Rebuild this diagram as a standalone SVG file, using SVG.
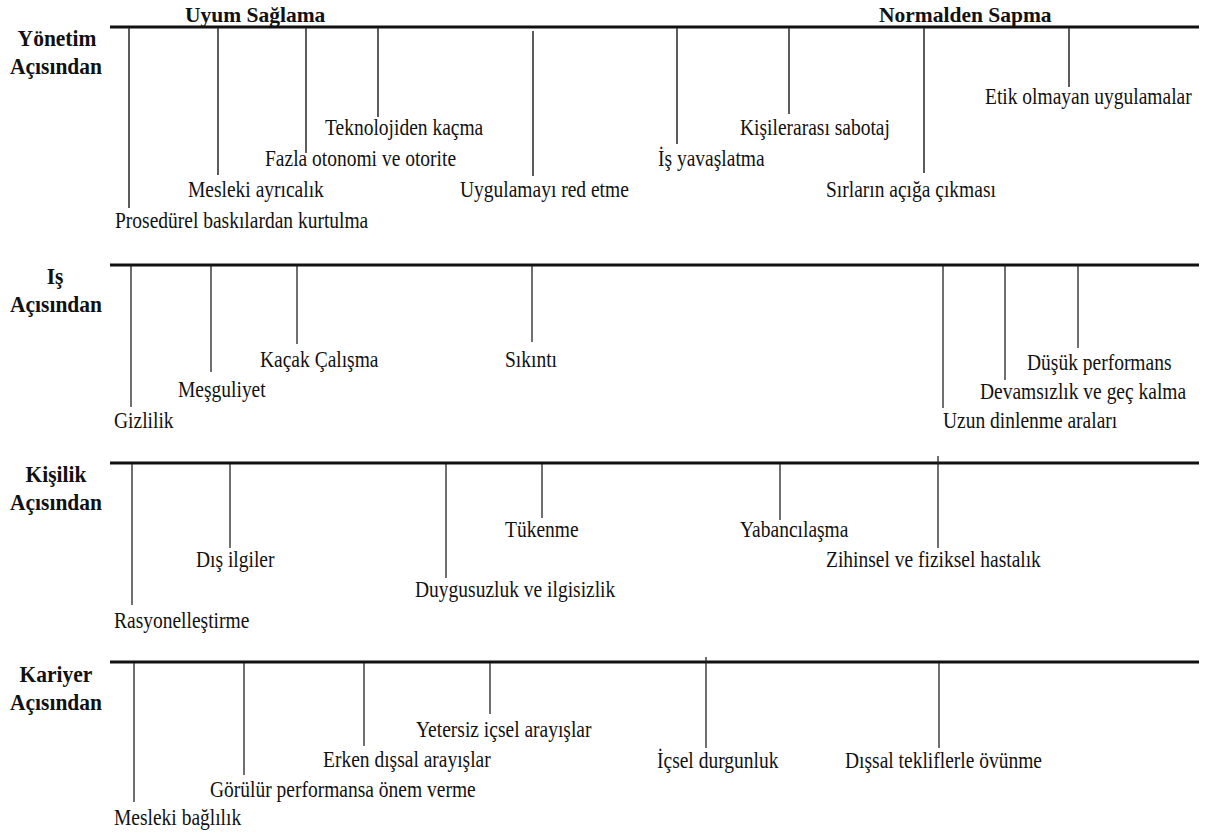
<svg xmlns="http://www.w3.org/2000/svg" width="1209" height="833" viewBox="0 0 1209 833">
  <style>
    .axis { stroke: #111; stroke-width: 3; fill: none; }
    .tick { stroke: #333; stroke-width: 1.6; fill: none; }
    .thin { stroke: #222; stroke-width: 1.3; }
    text { font-family: 'Liberation Serif', 'Times New Roman', serif; fill: #111; }
    .lbl { font-size: 19.5px; }
    .head { font-size: 21.5px; font-weight: bold; }
    .row { font-size: 21.5px; font-weight: bold; text-anchor: middle; }
  </style>
  <rect width="1209" height="833" fill="#fff"/>

  <!-- column headings -->
  <g id="heading-uyum"><text class="head" x="185" y="22">Uyum Sağlama</text></g>
  <g id="heading-sapma"><text class="head" x="879" y="22">Normalden Sapma</text></g>

  <!-- row titles -->
  <g id="row-yonetim">
    <text class="row" transform="translate(57,46) scale(1,1.08)">Yönetim</text>
    <text class="row" transform="translate(56,74) scale(1,1.08)">Açısından</text>
  </g>
  <g id="row-is">
    <text class="row" transform="translate(55,284) scale(1,1.08)">Iş</text>
    <text class="row" transform="translate(56,312) scale(1,1.08)">Açısından</text>
  </g>
  <g id="row-kisilik">
    <text class="row" transform="translate(56,482) scale(1,1.08)">Kişilik</text>
    <text class="row" transform="translate(56,510) scale(1,1.08)">Açısından</text>
  </g>
  <g id="row-kariyer">
    <text class="row" transform="translate(56,682) scale(1,1.08)">Kariyer</text>
    <text class="row" transform="translate(56,710) scale(1,1.08)">Açısından</text>
  </g>

  <!-- axes and ticks -->
  <g id="connectors">
    <line class="axis" x1="110" y1="27" x2="1199" y2="27"/>
    <line class="axis" x1="110" y1="265" x2="1199" y2="265"/>
    <line class="axis" x1="110" y1="463" x2="1199" y2="463"/>
    <line class="axis" x1="110" y1="662" x2="1199" y2="662"/>

    <!-- Yönetim -->
    <line class="tick" x1="129" y1="28" x2="129" y2="208"/>
    <line class="tick" x1="218" y1="28" x2="218" y2="175"/>
    <line class="tick" x1="306" y1="28" x2="306" y2="153"/>
    <line class="tick" x1="378" y1="28" x2="378" y2="117"/>
    <line class="tick" x1="533" y1="31" x2="533" y2="176"/>
    <line class="tick" x1="677" y1="28" x2="677" y2="144"/>
    <line class="tick" x1="789" y1="28" x2="789" y2="114"/>
    <line class="tick" x1="924" y1="28" x2="924" y2="173"/>
    <line class="tick" x1="1069" y1="28" x2="1069" y2="87"/>

    <!-- Iş -->
    <line class="tick thin" x1="131" y1="266" x2="131" y2="407"/>
    <line class="tick thin" x1="211" y1="266" x2="211" y2="372"/>
    <line class="tick thin" x1="297" y1="266" x2="297" y2="344"/>
    <line class="tick thin" x1="532" y1="266" x2="532" y2="342"/>
    <line class="tick thin" x1="943" y1="266" x2="943" y2="408"/>
    <line class="tick thin" x1="1005" y1="266" x2="1005" y2="380"/>
    <line class="tick thin" x1="1078" y1="266" x2="1078" y2="348"/>

    <!-- Kişilik -->
    <line class="tick thin" x1="132" y1="464" x2="132" y2="605"/>
    <line class="tick thin" x1="230" y1="464" x2="230" y2="548"/>
    <line class="tick thin" x1="446" y1="464" x2="446" y2="578"/>
    <line class="tick thin" x1="542" y1="464" x2="542" y2="518"/>
    <line class="tick thin" x1="780" y1="464" x2="780" y2="520"/>
    <line class="tick thin" x1="938" y1="456" x2="938" y2="548"/>

    <!-- Kariyer -->
    <line class="tick thin" x1="134" y1="663" x2="134" y2="802"/>
    <line class="tick thin" x1="244" y1="663" x2="244" y2="775"/>
    <line class="tick thin" x1="364" y1="663" x2="364" y2="746"/>
    <line class="tick thin" x1="490" y1="663" x2="490" y2="714"/>
    <line class="tick thin" x1="706" y1="657" x2="706" y2="748"/>
    <line class="tick thin" x1="939" y1="663" x2="939" y2="748"/>
  </g>

  <!-- Yönetim items -->
  <g id="n-prosedurel"><text class="lbl" transform="translate(115,228) scale(1,1.15)">Prosedürel baskılardan kurtulma</text></g>
  <g id="n-mesleki-ayricalik"><text class="lbl" transform="translate(188,197) scale(1,1.15)">Mesleki ayrıcalık</text></g>
  <g id="n-fazla-otonomi"><text class="lbl" transform="translate(265,166) scale(1,1.15)">Fazla otonomi ve otorite</text></g>
  <g id="n-teknoloji"><text class="lbl" transform="translate(325,135) scale(1,1.15)">Teknolojiden kaçma</text></g>
  <g id="n-uygulama-red"><text class="lbl" transform="translate(460,197) scale(1,1.15)">Uygulamayı red etme</text></g>
  <g id="n-is-yavaslatma"><text class="lbl" transform="translate(658,166) scale(1,1.15)">İş yavaşlatma</text></g>
  <g id="n-sabotaj"><text class="lbl" transform="translate(740,135) scale(1,1.15)">Kişilerarası sabotaj</text></g>
  <g id="n-sirlar"><text class="lbl" transform="translate(826,197) scale(1,1.15)">Sırların açığa çıkması</text></g>
  <g id="n-etik"><text class="lbl" transform="translate(985,104) scale(1,1.15)">Etik olmayan uygulamalar</text></g>

  <!-- Iş items -->
  <g id="n-gizlilik"><text class="lbl" transform="translate(114,428) scale(1,1.15)">Gizlilik</text></g>
  <g id="n-mesguliyet"><text class="lbl" transform="translate(178,397) scale(1,1.15)">Meşguliyet</text></g>
  <g id="n-kacak"><text class="lbl" transform="translate(260,367) scale(1,1.15)">Kaçak Çalışma</text></g>
  <g id="n-sikinti"><text class="lbl" transform="translate(505,367) scale(1,1.15)">Sıkıntı</text></g>
  <g id="n-uzun-dinlenme"><text class="lbl" transform="translate(943,428) scale(1,1.15)">Uzun dinlenme araları</text></g>
  <g id="n-devamsizlik"><text class="lbl" transform="translate(980,399) scale(1,1.15)">Devamsızlık ve geç kalma</text></g>
  <g id="n-dusuk-performans"><text class="lbl" transform="translate(1027,370) scale(1,1.15)">Düşük performans</text></g>

  <!-- Kişilik items -->
  <g id="n-rasyonel"><text class="lbl" transform="translate(114,628) scale(1,1.15)">Rasyonelleştirme</text></g>
  <g id="n-dis-ilgiler"><text class="lbl" transform="translate(196,567) scale(1,1.15)">Dış ilgiler</text></g>
  <g id="n-duygusuzluk"><text class="lbl" transform="translate(415,597) scale(1,1.15)">Duygusuzluk ve ilgisizlik</text></g>
  <g id="n-tukenme"><text class="lbl" transform="translate(505,537) scale(1,1.15)">Tükenme</text></g>
  <g id="n-yabancilasma"><text class="lbl" transform="translate(740,537) scale(1,1.15)">Yabancılaşma</text></g>
  <g id="n-hastalik"><text class="lbl" transform="translate(826,567) scale(1,1.15)">Zihinsel ve fiziksel hastalık</text></g>

  <!-- Kariyer items -->
  <g id="n-mesleki-baglilik"><text class="lbl" transform="translate(114,825) scale(1,1.15)">Mesleki bağlılık</text></g>
  <g id="n-gorulur"><text class="lbl" transform="translate(210,797) scale(1,1.15)">Görülür performansa önem verme</text></g>
  <g id="n-erken"><text class="lbl" transform="translate(323,767) scale(1,1.15)">Erken dışsal arayışlar</text></g>
  <g id="n-yetersiz"><text class="lbl" transform="translate(416,737) scale(1,1.15)">Yetersiz içsel arayışlar</text></g>
  <g id="n-durgunluk"><text class="lbl" transform="translate(657,768) scale(1,1.15)">İçsel durgunluk</text></g>
  <g id="n-dissal-teklif"><text class="lbl" transform="translate(845,768) scale(1,1.15)">Dışsal tekliflerle övünme</text></g>
</svg>
